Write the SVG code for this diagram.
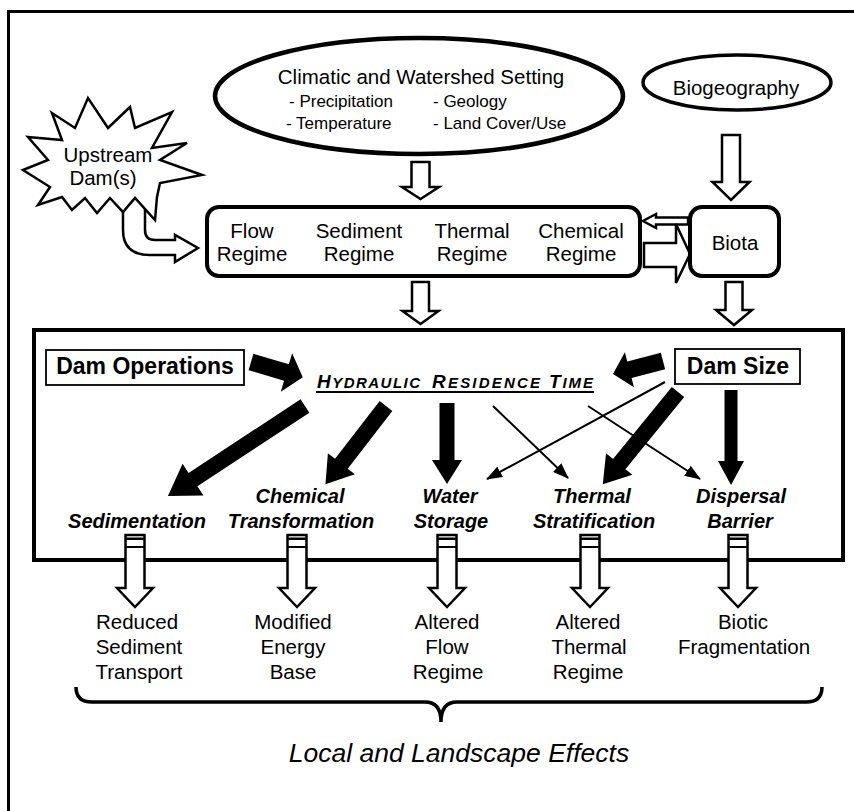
<svg xmlns="http://www.w3.org/2000/svg" width="854" height="811" viewBox="0 0 854 811">
<style>
  text { font-family: "Liberation Sans", Arial, sans-serif; fill: #000; }
  .t { font-size: 20.5px; text-anchor: middle; }
  .sub { font-size: 17px; }
  .lab { font-size: 20px; font-weight: bold; font-style: italic; text-anchor: middle; }
  .dam { font-size: 23px; font-weight: bold; text-anchor: middle; }
  .hrt { font-weight: bold; font-style: italic; }
  .hollow { fill: #fff; stroke: #000; stroke-width: 2.5; stroke-linejoin: miter; }
  .black { fill: #000; stroke: none; }
  .thin { stroke: #000; stroke-width: 2; fill: none; marker-end: url(#ah); }
  .cap { fill: #000; }
  .capline { stroke: #000; stroke-width: 2; }
</style>
<defs>
  <marker id="ah" markerUnits="userSpaceOnUse" markerWidth="16" markerHeight="12" refX="15" refY="6" orient="auto">
    <path d="M0,0 L16,6 L0,12 Z" fill="#000"/>
  </marker>
</defs>
<rect width="854" height="811" fill="#fff"/>
<path d="M8.5,811 V11.5 H854" fill="none" stroke="#000" stroke-width="3"/>

<g id="connectors">
  <path class="hollow" d="M145,205 L145,230 Q145,240 155,240 L175,240 L175,235 L198,248 L175,262 L175,255 L150,255 Q123,255 123,230 L123,205"/>
  <path class="hollow" d="M411.5,162 H429.5 V187 H439 L420.5,199 L402,187 H411.5 Z"/>
  <path class="hollow" d="M722,135 H740 V182 H749.5 L731,200 L712.5,182 H722 Z"/>
  <path class="hollow" d="M412,282 H429 V311 H438.5 L420.5,324 L402.5,311 H412 Z"/>
  <path class="hollow" d="M725.5,282 H742.5 V310 H752 L734,325 L716,310 H725.5 Z"/>
  <path class="hollow" d="M688,217.5 L656,217.5 L656,214 L643,221 L656,228 L656,224.5 L688,224.5 Z"/>
  <path class="hollow" d="M644,243 L676,243 L676,224 L690,254 L676,283 L676,267 L644,267 Z"/>
</g>

<g id="climatic">
  <ellipse cx="419" cy="96" rx="204" ry="58" fill="#fff" stroke="#000" stroke-width="4.5"/>
  <text class="t" x="421" y="84">Climatic and Watershed Setting</text>
  <text class="sub" x="289" y="107">- Precipitation</text>
  <text class="sub" x="433" y="107">- Geology</text>
  <text class="sub" x="286" y="129">- Temperature</text>
  <text class="sub" x="433" y="129">- Land Cover/Use</text>
</g>

<g id="biogeography">
  <ellipse cx="737" cy="82.5" rx="94" ry="27.5" fill="#fff" stroke="#000" stroke-width="3.5"/>
  <text class="t" x="736" y="95">Biogeography</text>
</g>

<g id="upstream">
  <polygon points="23,170 48,160 28,137 62,140 52,113 75,128 88,98 108,128 130,107 135,128 172,112 152,148 187,143 160,160 202,175 160,183 157,197 155,220 135,198 123,212 110,198 97,213 85,198 72,210 62,197 38,205 50,187" fill="#fff" stroke="#000" stroke-width="2.5" stroke-linejoin="miter"/>
  <text class="t" x="108" y="162">Upstream</text>
  <text class="t" x="103" y="185">Dam(s)</text>
</g>

<g id="regimes">
  <rect x="207" y="207" width="433" height="69" rx="12" fill="#fff" stroke="#000" stroke-width="4"/>
  <text class="t" x="252" y="238">Flow</text>
  <text class="t" x="252" y="261">Regime</text>
  <text class="t" x="359" y="238">Sediment</text>
  <text class="t" x="359" y="261">Regime</text>
  <text class="t" x="472" y="238">Thermal</text>
  <text class="t" x="472" y="261">Regime</text>
  <text class="t" x="581" y="238">Chemical</text>
  <text class="t" x="581" y="261">Regime</text>
</g>

<g id="biota">
  <rect x="690" y="207" width="89" height="69" rx="12" fill="#fff" stroke="#000" stroke-width="4"/>
  <text class="t" x="735" y="250">Biota</text>
</g>

<g id="reservoir">
  <rect x="34" y="330" width="809" height="230" fill="none" stroke="#000" stroke-width="4"/>
</g>

<g id="dam-operations">
  <rect x="46" y="350" width="198" height="35" fill="#fff" stroke="#000" stroke-width="1.8"/>
  <text class="dam" x="145" y="374">Dam Operations</text>
</g>

<g id="dam-size">
  <rect x="675" y="349" width="125" height="35" fill="#fff" stroke="#000" stroke-width="1.8"/>
  <text class="dam" x="738" y="374">Dam Size</text>
</g>

<g id="hydraulic-residence-time">
  <text class="hrt" x="317" y="388" textLength="103" lengthAdjust="spacing"><tspan font-size="19">H</tspan><tspan font-size="15">YDRAULIC</tspan></text>
  <text class="hrt" x="432" y="388" textLength="108" lengthAdjust="spacing"><tspan font-size="19">R</tspan><tspan font-size="15">ESIDENCE</tspan></text>
  <text class="hrt" x="549" y="388" textLength="44" lengthAdjust="spacing"><tspan font-size="19">T</tspan><tspan font-size="15">IME</tspan></text>
  <line x1="316" y1="392" x2="594" y2="392" stroke="#000" stroke-width="2"/>
</g>

<g id="connectors-reservoir">
  <path class="black" transform="translate(251,362) rotate(16.5)" d="M0,-8.5 L37,-8.5 L37,-20 L54,0 L37,20 L37,8.5 L0,8.5 Z"/>
  <path class="black" transform="translate(663,361) rotate(165.4)" d="M0,-8.5 L34.7,-8.5 L34.7,-18 L51.7,0 L34.7,18 L34.7,8.5 L0,8.5 Z"/>
  <path class="black" transform="translate(305,406) rotate(146.7)" d="M0,-8 L134,-8 L134,-19 L164,0 L134,19 L134,8 L0,8 Z"/>
  <path class="black" transform="translate(386,406) rotate(127.7)" d="M0,-8 L73,-8 L73,-17 L99,0 L73,17 L73,8 L0,8 Z"/>
  <path class="black" transform="translate(447,403) rotate(90)" d="M0,-7.5 L57,-7.5 L57,-15 L81,0 L57,15 L57,7.5 L0,7.5 Z"/>
  <path class="black" transform="translate(678,392) rotate(129.2)" d="M0,-8 L93,-8 L93,-17 L119,0 L93,17 L93,8 L0,8 Z"/>
  <path class="black" transform="translate(731,390) rotate(90)" d="M0,-6.5 L71,-6.5 L71,-13 L95,0 L71,13 L71,6.5 L0,6.5 Z"/>
  <line class="thin" x1="493" y1="406" x2="568" y2="478"/>
  <line class="thin" x1="588" y1="406" x2="700" y2="479"/>
  <line class="thin" x1="665" y1="382" x2="487" y2="479"/>
</g>

<g id="processes">
  <text class="lab" x="137" y="528">Sedimentation</text>
  <text class="lab" x="300" y="503">Chemical</text>
  <text class="lab" x="301" y="528">Transformation</text>
  <text class="lab" x="450" y="503">Water</text>
  <text class="lab" x="451" y="528">Storage</text>
  <text class="lab" x="592" y="503">Thermal</text>
  <text class="lab" x="594" y="528">Stratification</text>
  <text class="lab" x="741" y="503">Dispersal</text>
  <text class="lab" x="740" y="528">Barrier</text>
</g>

<g id="connectors-effects">
  <path class="hollow" d="M125.5,535 H144.5 V588 H153 L135,607 L117,588 H125.5 Z"/>
  <path class="hollow" d="M287.5,535 H306.5 V588 H315 L297,607 L279,588 H287.5 Z"/>
  <path class="hollow" d="M437.5,535 H456.5 V588 H465 L447,607 L429,588 H437.5 Z"/>
  <path class="hollow" d="M580.5,535 H599.5 V588 H608 L590,607 L572,588 H580.5 Z"/>
  <path class="hollow" d="M728.5,535 H747.5 V588 H756 L738,607 L720,588 H728.5 Z"/>
  <rect class="cap" x="125.5" y="537.5" width="19" height="2.5"/>
  <rect class="cap" x="287.5" y="537.5" width="19" height="2.5"/>
  <rect class="cap" x="437.5" y="537.5" width="19" height="2.5"/>
  <rect class="cap" x="580.5" y="537.5" width="19" height="2.5"/>
  <rect class="cap" x="728.5" y="537.5" width="19" height="2.5"/>
  <line class="capline" x1="125.5" y1="547" x2="144.5" y2="547"/>
  <line class="capline" x1="287.5" y1="547" x2="306.5" y2="547"/>
  <line class="capline" x1="437.5" y1="547" x2="456.5" y2="547"/>
  <line class="capline" x1="580.5" y1="547" x2="599.5" y2="547"/>
  <line class="capline" x1="728.5" y1="547" x2="747.5" y2="547"/>
</g>

<g id="effects">
  <text class="t" x="137" y="629">Reduced</text>
  <text class="t" x="139" y="654">Sediment</text>
  <text class="t" x="139" y="679">Transport</text>
  <text class="t" x="293" y="629">Modified</text>
  <text class="t" x="293" y="654">Energy</text>
  <text class="t" x="293" y="679">Base</text>
  <text class="t" x="447" y="629">Altered</text>
  <text class="t" x="447" y="654">Flow</text>
  <text class="t" x="448" y="679">Regime</text>
  <text class="t" x="588" y="629">Altered</text>
  <text class="t" x="589" y="654">Thermal</text>
  <text class="t" x="588" y="679">Regime</text>
  <text class="t" x="743" y="629">Biotic</text>
  <text class="t" x="744" y="654">Fragmentation</text>
</g>

<g id="brace">
  <path d="M76,687 Q76,702 92,702 L425,702 Q441,702 441,722 Q441,702 457,702 L806,702 Q822,702 822,687" fill="none" stroke="#000" stroke-width="3.5"/>
</g>

<g id="local-landscape-effects">
  <text x="459" y="761.5" font-size="26.5" font-style="italic" text-anchor="middle">Local and Landscape Effects</text>
</g>
</svg>
